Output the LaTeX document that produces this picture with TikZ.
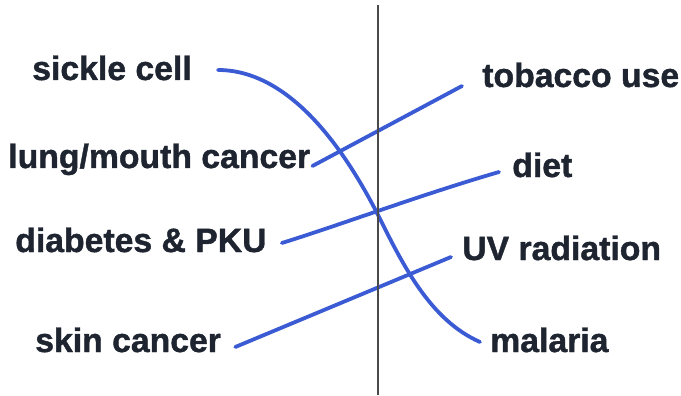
\documentclass[tikz,border=0pt]{standalone}
\usepackage{fontspec}
\setmainfont{Liberation Sans}[BoldFeatures={FakeBold=1.2}]
\usetikzlibrary{calc}
\definecolor{MatchInk}{HTML}{1E2430}
\definecolor{MatchPen}{HTML}{3B5BD4}
\definecolor{MatchRule}{HTML}{4A4A4A}

\begin{document}
\begin{tikzpicture}[x=0.025cm,y=0.025cm,
    term/.style={text=MatchInk,font=\fontsize{24}{28}\selectfont\bfseries,inner sep=0pt,anchor=base west},
    pen/.style={MatchPen,line width=2.7pt,line cap=round}]
  \useasboundingbox (0,0) rectangle (681,395);
  % left column
  \node[term] (sickle) at (32,315) {sickle cell};
  \node[term] (lung) at (8,227) {lung/mouth cancer};
  \node[term] (diabetes) at (15,143) {diabetes \& PKU};
  \node[term] (skin) at (35,43) {skin cancer};
  % right column
  \node[term] (tobacco) at (482,308) {tobacco use};
  \node[term] (diet) at (512,218) {diet};
  \node[term] (uv) at (462,135) {UV radiation};
  \node[term] (malaria) at (490,43) {malaria};
  % hand drawn pairings
  \draw[pen] ($(sickle.base east)+(26,10)$) .. controls (290,325) and (345,245) .. (378,180)
    .. controls (403,130) and (430,75) .. ($(malaria.base west)+(-10,10)$);
  \draw[pen] ($(lung.base east)+(2,2)$) -- ($(tobacco.base west)+(-20,1)$);
  \draw[pen] ($(diabetes.base east)+(15,9)$) .. controls (340,170) and (420,200) .. ($(diet.base west)+(-13,5)$);
  \draw[pen] ($(skin.base east)+(14,5)$) -- ($(uv.base west)+(-11,3)$);
  \draw[MatchRule,line width=1.1pt] (378,0) -- (378,390);
\end{tikzpicture}
\end{document}
